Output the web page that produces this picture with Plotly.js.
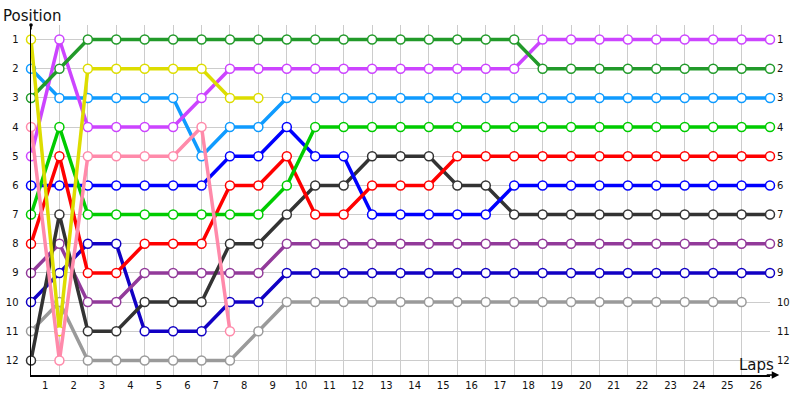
<!DOCTYPE html>
<html>
<head>
<meta charset="utf-8">
<script src="https://cdn.plot.ly/plotly-3.0.1.min.js"></script>
<style>
  html, body { margin: 0; padding: 0; background: #ffffff; }
  #chart { width: 800px; height: 400px; }
</style>
</head>
<body>
<div id="chart"></div>
<script>
// laps 0..26, position per lap for each car
var laps = [0, 1, 2, 3, 4, 5, 6, 7, 8, 9, 10, 11, 12, 13, 14, 15, 16, 17, 18, 19, 20, 21, 22, 23, 24, 25, 26];
var lapLabels = ['1', '2', '3', '4', '5', '6', '7', '8', '9', '10', '11', '12', '13',
  '14', '15', '16', '17', '18', '19', '20', '21', '22', '23', '24', '25', '26'];
var positions = [1, 2, 3, 4, 5, 6, 7, 8, 9, 10, 11, 12];

var darkGreen = [3, 2, 1, 1, 1, 1, 1, 1, 1, 1, 1, 1, 1, 1, 1, 1, 1, 1, 2, 2, 2, 2, 2, 2, 2, 2, 2];
var magenta   = [5, 1, 4, 4, 4, 4, 3, 2, 2, 2, 2, 2, 2, 2, 2, 2, 2, 2, 1, 1, 1, 1, 1, 1, 1, 1, 1];
var yellow    = [1, 11, 2, 2, 2, 2, 2, 3, 3];
var lightBlue = [2, 3, 3, 3, 3, 3, 5, 4, 4, 3, 3, 3, 3, 3, 3, 3, 3, 3, 3, 3, 3, 3, 3, 3, 3, 3, 3];
var green     = [7, 4, 7, 7, 7, 7, 7, 7, 7, 6, 4, 4, 4, 4, 4, 4, 4, 4, 4, 4, 4, 4, 4, 4, 4, 4, 4];
var red       = [8, 5, 9, 9, 8, 8, 8, 6, 6, 5, 7, 7, 6, 6, 6, 5, 5, 5, 5, 5, 5, 5, 5, 5, 5, 5, 5];
var blue      = [6, 6, 6, 6, 6, 6, 6, 5, 5, 4, 5, 5, 7, 7, 7, 7, 7, 6, 6, 6, 6, 6, 6, 6, 6, 6, 6];
var black     = [12, 7, 11, 11, 10, 10, 10, 8, 8, 7, 6, 6, 5, 5, 5, 6, 6, 7, 7, 7, 7, 7, 7, 7, 7, 7, 7];
var purple    = [9, 8, 10, 10, 9, 9, 9, 9, 9, 8, 8, 8, 8, 8, 8, 8, 8, 8, 8, 8, 8, 8, 8, 8, 8, 8, 8];
var navy      = [10, 9, 8, 8, 11, 11, 11, 10, 10, 9, 9, 9, 9, 9, 9, 9, 9, 9, 9, 9, 9, 9, 9, 9, 9, 9, 9];
var gray      = [11, 10, 12, 12, 12, 12, 12, 12, 11, 10, 10, 10, 10, 10, 10, 10, 10, 10, 10, 10, 10, 10, 10, 10, 10, 10];
var pink      = [4, 12, 5, 5, 5, 5, 4, 11];

var cars = [
  {name: 'gray', y: gray, color: '#9a9a9a'},
  {name: 'navy', y: navy, color: '#1100c4'},
  {name: 'purple', y: purple, color: '#923a9a'},
  {name: 'black', y: black, color: '#333333'},
  {name: 'blue', y: blue, color: '#0000ff'},
  {name: 'red', y: red, color: '#ff0000'},
  {name: 'green', y: green, color: '#00cc00'},
  {name: 'lightBlue', y: lightBlue, color: '#0f9bff'},
  {name: 'magenta', y: magenta, color: '#cc44ff'},
  {name: 'darkGreen', y: darkGreen, color: '#229a2a'},
  {name: 'yellow', y: yellow, color: '#dddd00'},
  {name: 'pink', y: pink, color: '#ff8aaa'}
];

var data = cars.map(function (c) {
  return {
    type: 'scatter',
    mode: 'lines+markers',
    name: c.name,
    x: laps.slice(0, c.y.length),
    y: c.y,
    line: {color: c.color, width: 3.5},
    marker: {symbol: 'circle', size: 9, color: '#ffffff', line: {color: c.color, width: 1.5}},
    cliponaxis: false,
    hoverinfo: 'x+y+name'
  };
});

// empty trace so the right-hand position axis is drawn
data.push({type: 'scatter', x: [], y: [], yaxis: 'y2', showlegend: false, hoverinfo: 'skip'});

var tickFont = {family: 'DejaVu Sans, Verdana, sans-serif', size: 10, color: '#111111'};

var layout = {
  width: 800,
  height: 400,
  showlegend: false,
  paper_bgcolor: '#ffffff',
  plot_bgcolor: '#ffffff',
  margin: {l: 31, r: 30, t: 25, b: 25, pad: 0},
  xaxis: {
    range: [0, 26],
    tickmode: 'array',
    tickvals: lapLabels.map(function (s, i) { return i + 0.5; }),
    ticktext: lapLabels,
    ticks: '',
    showgrid: false,
    zeroline: false,
    showline: true,
    linecolor: '#000000',
    linewidth: 1.5,
    tickfont: tickFont,
    minor: {
      tickmode: 'array',
      tickvals: laps,
      showgrid: true,
      gridcolor: '#cccccc',
      gridwidth: 1,
      ticks: ''
    },
    fixedrange: true
  },
  yaxis: {
    range: [12.5, 0.5],
    tickmode: 'array',
    tickvals: positions,
    ticks: '',
    ticklabelstandoff: 9,
    showgrid: true,
    gridcolor: '#cccccc',
    gridwidth: 1,
    zeroline: false,
    showline: true,
    linecolor: '#000000',
    linewidth: 1.5,
    tickfont: tickFont,
    fixedrange: true
  },
  yaxis2: {
    overlaying: 'y',
    side: 'right',
    range: [12.5, 0.5],
    tickmode: 'array',
    tickvals: positions,
    ticks: '',
    ticklabelstandoff: 6,
    showgrid: false,
    zeroline: false,
    showline: false,
    tickfont: tickFont,
    fixedrange: true
  },
  annotations: [
    {
      xref: 'paper', yref: 'paper',
      x: 0, y: 1,
      xanchor: 'center', yanchor: 'bottom',
      xshift: 1, yshift: -2,
      text: 'Position',
      showarrow: false,
      font: {family: 'DejaVu Sans, Verdana, sans-serif', size: 15, color: '#111111'}
    },
    {
      xref: 'paper', yref: 'paper',
      x: 1, y: 0,
      xanchor: 'right', yanchor: 'bottom',
      xshift: 6, yshift: -1,
      text: 'Laps',
      showarrow: false,
      font: {family: 'DejaVu Sans, Verdana, sans-serif', size: 15, color: '#111111'}
    },
    {
      // arrow head at the end of the laps axis
      xref: 'paper', yref: 'paper',
      x: 1.0125, y: 0,
      ax: -14, ay: 0,
      text: '',
      showarrow: true,
      arrowhead: 2,
      arrowsize: 1,
      arrowwidth: 1.5,
      arrowcolor: '#000000'
    },
    {
      // dot at the top of the position axis
      xref: 'paper', yref: 'paper',
      x: 0, y: 1,
      ax: 0, ay: 6,
      text: '',
      showarrow: true,
      arrowhead: 6,
      arrowsize: 0.6,
      arrowwidth: 1.5,
      arrowcolor: '#000000'
    }
  ]
};

Plotly.newPlot('chart', data, layout, {displayModeBar: false, staticPlot: true});
</script>
</body>
</html>
